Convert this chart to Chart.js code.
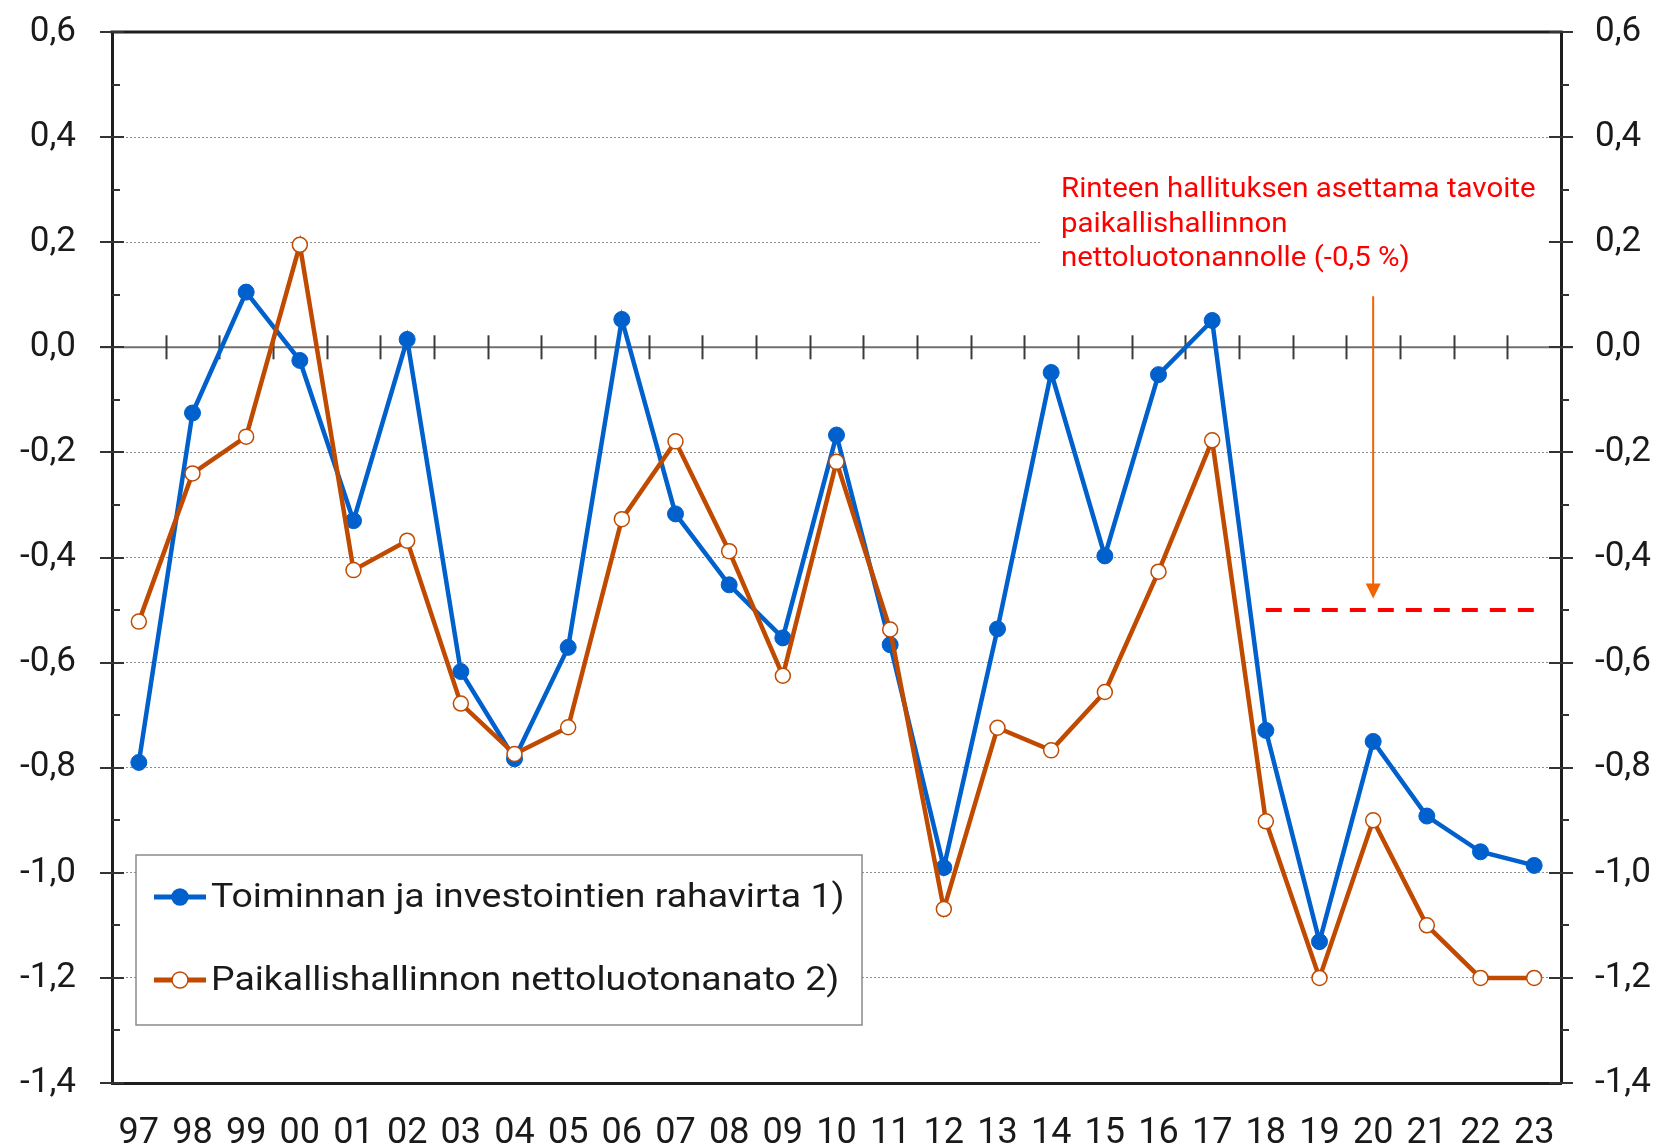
<!DOCTYPE html>
<html>
<head>
<meta charset="utf-8">
<script src="https://cdn.jsdelivr.net/npm/chart.js@4.4.1/dist/chart.umd.min.js"></script>
<style>
html,body{margin:0;padding:0;background:#fff;}
#wrap{width:1662px;height:1148px;position:relative;}
</style>
</head>
<body>
<div id="wrap"><canvas id="c" width="1662" height="1148"></canvas></div>
<script>
const years = ['97','98','99','00','01','02','03','04','05','06','07','08','09','10','11','12','13','14','15','16','17','18','19','20','21','22','23'];
const cashFlow = [-0.79, -0.125, 0.105, -0.025, -0.33, 0.015, -0.617, -0.783, -0.571, 0.053, -0.317, -0.452, -0.553, -0.167, -0.566, -0.99, -0.536, -0.048, -0.397, -0.052, 0.051, -0.729, -1.131, -0.75, -0.892, -0.96, -0.986];
const netLending = [-0.522, -0.24, -0.17, 0.195, -0.424, -0.368, -0.678, -0.774, -0.723, -0.327, -0.179, -0.388, -0.625, -0.218, -0.537, -1.069, -0.724, -0.767, -0.656, -0.427, -0.177, -0.902, -1.2, -0.9, -1.1, -1.2, -1.2];
const targetYears = ['18','19','20','21','22','23'];
const targetValue = -0.5;
const target = years.map(y => targetYears.includes(y) ? targetValue : null);
const seriesLabels = ['Toiminnan ja investointien rahavirta 1)', 'Paikallishallinnon nettoluotonanato 2)'];
const noteLines = ['Rinteen hallituksen asettama tavoite', 'paikallishallinnon', 'nettoluotonannolle (-0,5 %)'];
const arrowYear = '20';
const arrowFrom = 0.097;
const arrowTo = -0.478;
const yMin = -1.4, yMax = 0.6, yStep = 0.2;

const BLUE = '#0060CC';
const BROWN = '#C04A00';
const FONT = 'Roboto';
Chart.defaults.font.family = FONT;

const fmt = v => (Math.abs(v) < 1e-9 ? 0 : v).toFixed(1).replace('.', ',');

function line(ctx, x1, y1, x2, y2) { ctx.beginPath(); ctx.moveTo(x1, y1); ctx.lineTo(x2, y2); ctx.stroke(); }
function stretchedText(ctx, t, x, y, sx) { ctx.save(); ctx.translate(x, y); ctx.scale(sx, 1); ctx.fillText(t, 0, 0); ctx.restore(); }

const decor = {
  id: 'decor',
  beforeDatasetsDraw(chart) {
    const {ctx, chartArea: a, scales: {x, y}} = chart;
    ctx.save();
    const nx = 1061;
    ctx.fillStyle = '#fff';
    ctx.fillRect(nx - 20, y.getPixelForValue(0.33), a.right - 8 - (nx - 20), y.getPixelForValue(0.13) - y.getPixelForValue(0.33));
    const y0 = y.getPixelForValue(0);
    ctx.strokeStyle = '#707070'; ctx.lineWidth = 2;
    line(ctx, a.left - 12, y0, a.right + 12, y0);
    const step = x.getPixelForValue(1) - x.getPixelForValue(0);
    ctx.strokeStyle = '#3a3a3a';
    for (let i = 1; i < years.length; i++) {
      const px = Math.round(x.getPixelForValue(i) - step / 2) + 0.5;
      line(ctx, px, y0 - 12, px, y0 + 12);
    }
    ctx.fillStyle = '#FF0000';
    ctx.font = '27px ' + FONT;
    ctx.textBaseline = 'middle';
    ctx.textAlign = 'left';
    const ly = [190, 225, 259];
    noteLines.forEach((t, i) => stretchedText(ctx, t, nx, ly[i], 1.09));
    ctx.restore();
  },
  afterDatasetsDraw(chart) {
    const {ctx, scales: {x, y}} = chart;
    ctx.save();
    const ax = x.getPixelForValue(years.indexOf(arrowYear));
    const y1 = y.getPixelForValue(arrowFrom), y2 = y.getPixelForValue(arrowTo);
    ctx.strokeStyle = '#F26200'; ctx.fillStyle = '#F26200'; ctx.lineWidth = 2;
    line(ctx, ax, y1, ax, y2 - 14);
    ctx.beginPath(); ctx.moveTo(ax - 7.5, y2 - 15); ctx.lineTo(ax + 7.5, y2 - 15); ctx.lineTo(ax, y2); ctx.closePath(); ctx.fill();
    ctx.restore();
  },
  afterDraw(chart) {
    const {ctx, chartArea: a, scales: {y}} = chart;
    ctx.save();
    ctx.strokeStyle = '#1e1e1e'; ctx.lineWidth = 3;
    line(ctx, a.left - 1.5, a.top, a.right + 1.5, a.top);
    ctx.lineWidth = 2; ctx.strokeStyle = '#333';
    for (let k = 0; k <= 20; k++) {
      const v = yMin + k * 0.1;
      const py = Math.round(y.getPixelForValue(v));
      if (k % 2 === 0) {
        line(ctx, a.left - 12, py, a.left + 12, py);
        line(ctx, a.right - 12, py, a.right + 12, py);
      } else {
        line(ctx, a.left, py, a.left + 8, py);
        line(ctx, a.right, py, a.right + 8, py);
      }
    }
    const L = {x: 136, y: 855, w: 726, h: 170};
    ctx.fillStyle = '#fff';
    ctx.fillRect(L.x, L.y, L.w, L.h);
    ctx.strokeStyle = '#8a8a8a'; ctx.lineWidth = 1.5;
    ctx.strokeRect(L.x, L.y, L.w, L.h);
    const rows = [897, 980];
    chart.data.datasets.slice(0, 2).forEach((ds, i) => {
      const cy = rows[i];
      ctx.strokeStyle = ds.borderColor; ctx.lineWidth = 5;
      line(ctx, 154, cy, 206, cy);
      ctx.beginPath(); ctx.arc(180, cy, 8, 0, Math.PI * 2);
      ctx.fillStyle = ds.pointBackgroundColor; ctx.fill();
      ctx.lineWidth = 1.5; ctx.strokeStyle = ds.borderColor; ctx.stroke();
      ctx.fillStyle = '#1a1a1a';
      ctx.font = '34px ' + FONT;
      ctx.textBaseline = 'middle'; ctx.textAlign = 'left';
      stretchedText(ctx, ds.label, 211, cy + 1, 1.10);
    });
    ctx.restore();
  }
};

const yAxis = (pos) => ({
  type: 'linear', position: pos, min: yMin, max: yMax,
  afterFit: s => { s.width = pos === 'left' ? 112 : 101; },
  ticks: { stepSize: yStep, callback: v => fmt(v), font: {size: 35}, color: '#1a1a1a', padding: 10 },
  grid: {
    display: true, drawTicks: true, tickLength: pos === 'left' ? 26 : 24, tickColor: 'rgba(0,0,0,0)', lineWidth: 1,
    color: c => {
      if (pos !== 'left') return 'rgba(0,0,0,0)';
      const v = c.tick ? c.tick.value : 0;
      return (Math.abs(v) < 1e-9 || Math.abs(v - yMax) < 1e-9 || Math.abs(v - yMin) < 1e-9) ? 'rgba(0,0,0,0)' : '#8f8f8f';
    }
  },
  border: { display: true, width: 3, color: '#1e1e1e', dash: [2, 2] }
});

new Chart(document.getElementById('c'), {
  type: 'line',
  data: {
    labels: years,
    datasets: [
      { label: seriesLabels[0], data: cashFlow, borderColor: BLUE, backgroundColor: BLUE, pointBackgroundColor: BLUE, pointBorderColor: BLUE, borderWidth: 4.5, pointRadius: 8, pointBorderWidth: 1, tension: 0, order: 2, yAxisID: 'y' },
      { label: seriesLabels[1], data: netLending, borderColor: BROWN, backgroundColor: '#fff', pointBackgroundColor: '#fff', pointBorderColor: BROWN, borderWidth: 4.5, pointRadius: 7.5, pointBorderWidth: 1.5, tension: 0, order: 1, yAxisID: 'y' },
      { label: 'target', data: target, borderColor: '#FF0000', borderWidth: 4, borderDash: [16, 12], pointRadius: 0, tension: 0, order: 0, yAxisID: 'y', spanGaps: false }
    ]
  },
  options: {
    responsive: false, animation: false, devicePixelRatio: 1,
    layout: { padding: { top: 32, left: 0, right: 0, bottom: 0 } },
    plugins: { legend: { display: false }, tooltip: { enabled: false } },
    scales: {
      x: {
        type: 'category', offset: true,
        afterFit: s => { s.height = 65; },
        grid: { display: false, drawTicks: false },
        border: { display: true, width: 3, color: '#1e1e1e' },
        ticks: { font: {size: 36}, color: '#1a1a1a', padding: 29, maxRotation: 0, autoSkip: false }
      },
      y: yAxis('left'),
      y2: yAxis('right')
    }
  },
  plugins: [decor]
});
</script>
</body>
</html>
